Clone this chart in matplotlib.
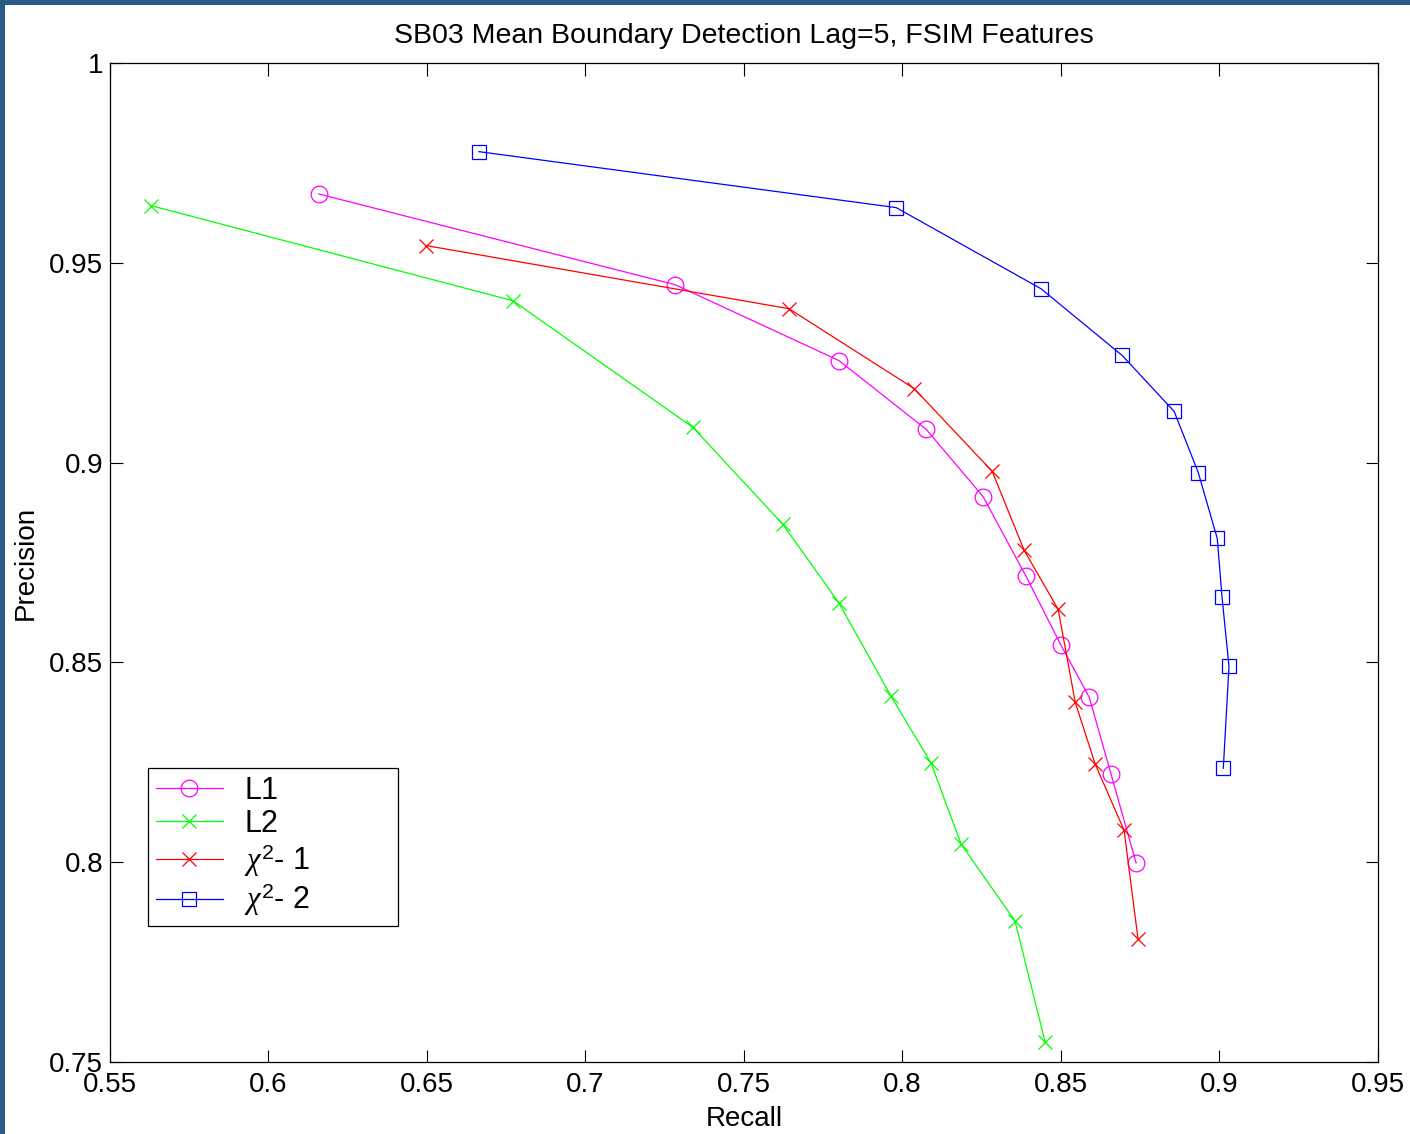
import matplotlib
matplotlib.use('Agg')
import matplotlib.pyplot as plt
from matplotlib.patches import Rectangle

plt.rcParams['font.family'] = ['Liberation Sans', 'DejaVu Sans']
plt.rcParams['mathtext.fontset'] = 'custom'
plt.rcParams['mathtext.it'] = 'Liberation Serif:italic'
plt.rcParams['mathtext.rm'] = 'Liberation Sans'

# recall / precision for each distance measure
l1_recall = [0.6159, 0.7283, 0.7800, 0.8075, 0.8254, 0.8390, 0.8500, 0.8589, 0.8658, 0.8737]
l1_prec = [0.9672, 0.9445, 0.9255, 0.9083, 0.8915, 0.8715, 0.8543, 0.8413, 0.8220, 0.7998]

l2_recall = [0.5629, 0.6771, 0.7339, 0.7623, 0.7800, 0.7964, 0.8090, 0.8185, 0.8355, 0.8450]
l2_prec = [0.9643, 0.9405, 0.9088, 0.8845, 0.8648, 0.8415, 0.8248, 0.8045, 0.7853, 0.7550]

chi1_recall = [0.6497, 0.7642, 0.8037, 0.8283, 0.8384, 0.8491, 0.8545, 0.8608, 0.8699, 0.8743]
chi1_prec = [0.9543, 0.9385, 0.9185, 0.8978, 0.8780, 0.8633, 0.8400, 0.8245, 0.8080, 0.7808]

chi2_recall = [0.6664, 0.7980, 0.8437, 0.8693, 0.8857, 0.8933, 0.8993, 0.9008, 0.9030, 0.9012]
chi2_prec = [0.9778, 0.9638, 0.9435, 0.9268, 0.9128, 0.8975, 0.8810, 0.8663, 0.8490, 0.8235]

xticks = [0.55, 0.6, 0.65, 0.7, 0.75, 0.8, 0.85, 0.9, 0.95]
xticklabels = ['0.55', '0.6', '0.65', '0.7', '0.75', '0.8', '0.85', '0.9', '0.95']
yticks = [0.75, 0.8, 0.85, 0.9, 0.95, 1.0]
yticklabels = ['0.75', '0.8', '0.85', '0.9', '0.95', '1']

fig = plt.figure(figsize=(14.1, 11.34), dpi=100)
ax = fig.add_axes([0.078, 0.0635, 0.8993, 0.881])

# dark blue frame on left and top of the screenshot
fig.patches.append(Rectangle((0, 0), 5 / 1410, 1, transform=fig.transFigure,
                             facecolor='#2a5a88', edgecolor='none'))
fig.patches.append(Rectangle((0, 1 - 5 / 1134), 1, 5 / 1134, transform=fig.transFigure,
                             facecolor='#2a5a88', edgecolor='none'))

lw = 0.9
ax.plot(l1_recall, l1_prec, color='#ff00ff', marker='o', markersize=12, mfc='none',
        mew=0.9, lw=lw, label='L1')
ax.plot(l2_recall, l2_prec, color='#00ff00', marker='x', markersize=10, mew=0.9,
        lw=lw, label='L2')
ax.plot(chi1_recall, chi1_prec, color='#ff0000', marker='x', markersize=10, mew=0.9,
        lw=lw, label=r'$\chi^2$- 1')
ax.plot(chi2_recall, chi2_prec, color='#0000ff', marker='s', markersize=10, mfc='none',
        mew=0.9, lw=lw, label=r'$\chi^2$- 2')

ax.set_xlim(0.55, 0.95)
ax.set_ylim(0.75, 1.0)
ax.set_xticks(xticks)
ax.set_xticklabels(xticklabels)
ax.set_yticks(yticks)
ax.set_yticklabels(yticklabels)
ax.tick_params(direction='in', length=9, width=0.8, top=True, right=True,
               labelsize=20)
ax.tick_params(axis='x', pad=7)
ax.tick_params(axis='y', pad=5)
for s in ax.spines.values():
    s.set_linewidth(0.9)

ax.set_xlabel('Recall', fontsize=20, labelpad=6)
ax.set_ylabel('Precision', fontsize=20, labelpad=7)
ax.set_title('SB03 Mean Boundary Detection Lag=5, FSIM Features', fontsize=20.5, pad=14)

leg = ax.legend(loc='lower left', bbox_to_anchor=(0.030, 0.136, 0.197, 0.152),
                mode='expand', borderaxespad=0,
                fontsize=22, fancybox=False, edgecolor='black', framealpha=1,
                handlelength=2.2, labelspacing=0.1, borderpad=0.25,
                handletextpad=0.7)
leg.get_frame().set_linewidth(0.9)

fig.savefig('out.png', dpi=100)
